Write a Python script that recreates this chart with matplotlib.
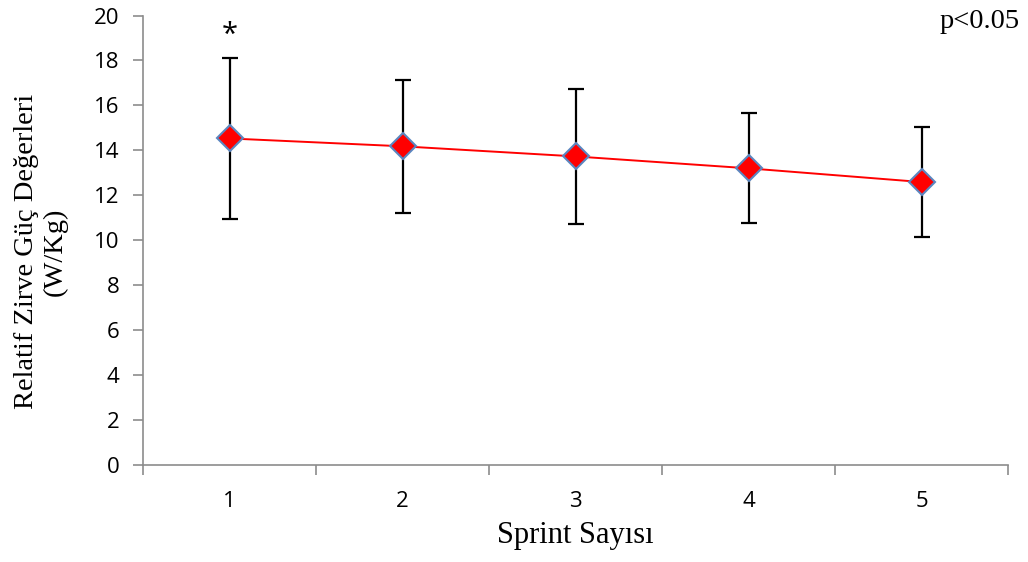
import matplotlib
matplotlib.use("Agg")
import matplotlib.pyplot as plt

sprints = ["1", "2", "3", "4", "5"]
means = [14.53, 14.18, 13.73, 13.20, 12.59]
sds = [3.60, 2.95, 3.00, 2.45, 2.45]
yticks = [0, 2, 4, 6, 8, 10, 12, 14, 16, 18, 20]

W, H = 1028, 562
fig = plt.figure(figsize=(W / 100, H / 100), dpi=100)
ax = fig.add_axes([143 / W, 1 - 465 / H, (1008 - 143) / W, (465 - 15.5) / H])

x = list(range(len(sprints)))
ax.errorbar(x, means, yerr=sds, fmt="none", ecolor="black", elinewidth=1.6,
            capsize=6, capthick=1.6, zorder=2)
ax.plot(x, means, color="#ff0000", lw=1.4, zorder=3)
ax.plot(x, means, linestyle="none", marker="D", markersize=13.5,
        markerfacecolor="#ff0000", markeredgecolor="#5b86c0", markeredgewidth=1.5, zorder=4)

ax.set_xlim(-0.5, len(sprints) - 0.5)
ax.set_ylim(0, 20)
ax.set_yticks(yticks)
ax.set_xticks(x)
ax.set_xticklabels(sprints)
ax.set_xticks([i - 0.5 for i in range(len(sprints) + 1)], minor=True)

for s in ["top", "right"]:
    ax.spines[s].set_visible(False)
for s in ["left", "bottom"]:
    ax.spines[s].set_color("#8c8c8c")
    ax.spines[s].set_linewidth(1.2)

ax.tick_params(axis="y", direction="out", length=7, width=1.2, color="#8c8c8c",
               labelsize=16, labelcolor="black", pad=10)
ax.tick_params(axis="x", which="major", length=0, labelsize=16, pad=19)
ax.tick_params(axis="x", which="minor", direction="out", length=7, width=1.2, color="#8c8c8c")
for lab in ax.get_xticklabels() + ax.get_yticklabels():
    lab.set_family(["Open Sans", "DejaVu Sans"])

ax.set_xlabel("Sprint Sayısı", family="Liberation Serif", fontsize=22, labelpad=6)
ax.set_ylabel("Relatif Zirve Güç Değerleri\n(W/Kg)", family="Liberation Serif",
              fontsize=20.5, linespacing=1.2)
ax.yaxis.set_label_coords(-0.087, 0.474)

ax.text(0, 19.1, "*", ha="center", va="center", fontsize=21, family=["Open Sans", "DejaVu Sans"])
fig.text(1020 / W, 1 - 22 / H, "p<0.05", ha="right", va="center",
         family="Liberation Serif", fontsize=20.5)

fig.savefig("out.png", dpi=100)
